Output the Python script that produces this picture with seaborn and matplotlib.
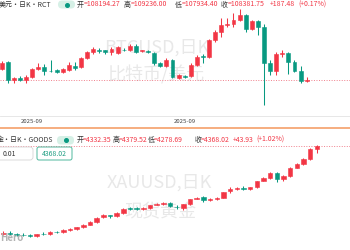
import numpy as np
import pandas as pd
import matplotlib
matplotlib.use("Agg")
import matplotlib.pyplot as plt
import seaborn as sns
from matplotlib.patches import FancyBboxPatch
from matplotlib.lines import Line2D
from matplotlib.transforms import IdentityTransform

# ---------------- data ----------------
btc_open = [111150, 112900, 108400, 108900, 108400, 109150, 111150, 111650, 110775, 110900,
            110400, 110900, 111900, 111650, 113900, 115400, 115900, 115900, 115400, 115150,
            116025, 115900, 117025, 115650, 115650, 115150, 112650, 111900, 113400, 108900,
            109400, 109400, 112150, 114400, 114150, 118400, 120400, 122150, 122400, 123400,
            124650, 121150, 123150, 121650, 112650, 110650, 114900, 115150, 112900, 110650,
            108194.27]
btc_high = [113150, 113150, 109150, 109400, 109650, 111400, 112650, 112400, 113400, 111275,
            111400, 112900, 112900, 114150, 115650, 116650, 116400, 116025, 116650, 116900,
            116400, 117525, 117400, 116025, 115900, 115400, 113025, 113900, 113650, 109900,
            109775, 112650, 114650, 114900, 118650, 120900, 123900, 123900, 125150, 126150,
            124900, 123400, 123400, 122400, 113400, 115400, 115900, 115400, 113400, 111900,
            109236.00]
btc_low = [110900, 107650, 107650, 108150, 107650, 108900, 110900, 109650, 110400, 110150,
           110275, 110650, 110900, 111400, 113650, 114900, 115150, 115025, 114650, 114900,
           115650, 115650, 115150, 115400, 115275, 112150, 111775, 111775, 108900, 108650,
           109025, 109150, 111900, 112650, 113900, 117900, 119150, 121650, 121650, 123275,
           120400, 120900, 119650, 102150, 109650, 109650, 114150, 109900, 110400, 107650,
           107934.40]
btc_close = [112650, 108400, 108900, 108400, 109150, 111150, 111650, 110650, 110650, 110400,
             111150, 112150, 111400, 113900, 115400, 116150, 115650, 115400, 116275, 116650,
             115900, 117025, 115400, 115900, 115400, 112650, 112025, 113400, 109150, 109650,
             109150, 112150, 114150, 114150, 118400, 120400, 122150, 122525, 123400, 124650,
             121150, 123150, 121650, 112650, 110650, 114900, 115150, 112900, 110650, 108150,
             108381.75]
btc_change, btc_pct = 187.48, 0.17
btc_tick_idx = [5, 30]
btc_tick_labels = ["2025-09", "2025-09"]

gold_open = [3318, 3330, 3312, 3306, 3306, 3288, 3318, 3312, 3342, 3336,
             3366, 3372, 3396, 3426, 3456, 3516, 3540, 3528, 3564, 3624,
             3624, 3618, 3624, 3666, 3678, 3684, 3642, 3624, 3672, 3738,
             3756, 3726, 3738, 3750, 3828, 3858, 3870, 3852, 3876, 3954,
             3984, 4044, 3978, 4008, 4110, 4152, 4212, 4332.35]
gold_high = [3348, 3348, 3330, 3324, 3312, 3318, 3336, 3348, 3354, 3372,
             3384, 3402, 3432, 3468, 3516, 3558, 3546, 3576, 3624, 3636,
             3636, 3642, 3666, 3690, 3696, 3696, 3660, 3678, 3738, 3762,
             3768, 3744, 3756, 3822, 3876, 3882, 3888, 3882, 3954, 3996,
             4056, 4056, 4020, 4116, 4164, 4224, 4344, 4379.52]
gold_low = [3300, 3300, 3288, 3288, 3282, 3276, 3300, 3300, 3324, 3324,
            3354, 3366, 3384, 3420, 3444, 3504, 3504, 3522, 3552, 3600,
            3606, 3606, 3618, 3660, 3666, 3636, 3618, 3606, 3666, 3732,
            3702, 3714, 3726, 3744, 3804, 3846, 3840, 3846, 3870, 3948,
            3978, 3942, 3954, 4002, 4104, 4140, 4206, 4278.69]
gold_close = [3324, 3318, 3306, 3300, 3294, 3312, 3312, 3336, 3336, 3366,
              3372, 3396, 3426, 3456, 3510, 3540, 3528, 3564, 3618, 3618,
              3618, 3624, 3660, 3678, 3684, 3648, 3636, 3672, 3732, 3750,
              3720, 3732, 3744, 3816, 3852, 3864, 3858, 3876, 3948, 3984,
              4044, 3972, 4008, 4110, 4152, 4212, 4332, 4368.02]
gold_change, gold_pct = 43.93, 1.02
tick_size_text = "0.01"

# ---------------- style ----------------
RED = "#F23645"
GREEN = "#089981"
DARK = "#333333"
WM = "#e8e8e8"

sns.set_theme(style="white")
plt.rcParams["font.family"] = ["Noto Sans CJK SC", "DejaVu Sans"]

W, H = 350, 250
fig = plt.figure(figsize=(3.5, 2.5), dpi=100)
fig.patch.set_facecolor("white")


def fx(x):
    return x / W


def fy(y):
    return 1 - y / H


def seg(x, y, s, color, size=5, **kw):
    fig.text(fx(x), fy(y), s, color=color, fontsize=size, ha="left", va="center", **kw)


def rbox(x, y, w, h, fc, ec, lw=0.0, r=3):
    p = FancyBboxPatch((x, H - y - h), w, h, boxstyle=f"round,pad=0,rounding_size={r}",
                       transform=IdentityTransform(), fc=fc, ec=ec, lw=lw)
    fig.add_artist(p)


def candles(ax, o, h, l, c, width):
    df = pd.DataFrame(dict(o=o, h=h, l=l, c=c))
    df["x"] = np.arange(len(df))
    col = np.where(df.c >= df.o, RED, GREEN)
    ax.vlines(df.x, df.l, df.h, colors=col, linewidth=0.75, zorder=2)
    ax.bar(df.x, (df.c - df.o).abs(), bottom=np.minimum(df.o, df.c), width=width,
           color=col, edgecolor=col, linewidth=0.4, zorder=3)


# ---------------- top panel (BTC) ----------------
ax1 = fig.add_axes([0, fy(116), 1, 116 / H])
ax1.patch.set_alpha(0)
candles(ax1, btc_open, btc_high, btc_low, btc_close, 0.65)
ax1.axhline(btc_close[-1], color="#f0808c", lw=0.7, ls=(0, (1, 1.6)), zorder=1)
ax1.set_xlim(-0.279, 57.1)
ax1.set_ylim(99400, 128400)
ax1.set_yticks([])
ax1.set_xticks(btc_tick_idx)
ax1.set_xticklabels(btc_tick_labels, fontsize=4.3, color="#444444")
ax1.tick_params(axis="x", length=0, pad=2.5)
sns.despine(ax=ax1, left=True)
ax1.spines["bottom"].set_color("#e3e3e3")
ax1.spines["bottom"].set_linewidth(0.6)

# ---------------- bottom panel (Gold) ----------------
ax2 = fig.add_axes([0, 0, 1, 120 / H])
ax2.patch.set_alpha(0)
candles(ax2, gold_open, gold_high, gold_low, gold_close, 0.67)
ax2.axhline(gold_close[-1], color="#f0808c", lw=0.7, ls=(0, (1, 1.6)), zorder=1)
ax2.set_xlim(-0.495, 51.98)
ax2.set_ylim(3120, 4560)
ax2.set_axis_off()

# ---------------- watermarks ----------------
for x, y, s in [(157, 48, "BTCUSD,日K"), (156, 75, "比特币/美元"),
                (159, 183, "XAUUSD,日K"), (160, 212, "现货黄金")]:
    fig.text(fx(x), fy(y), s, color=WM, fontsize=13, ha="center", va="center", zorder=-1)

# separator
fig.add_artist(Line2D([0, 1], [fy(128), fy(128)], color="#F5A06A", lw=1.2,
                      transform=fig.transFigure))

# ---------------- top header ----------------
yt = 4.5
seg(-1.5, yt, "美元・日K・RCT", DARK)
rbox(58, 0.5, 17, 8, "#d6f0e6", "none", r=4)
fig.add_artist(Line2D([fx(66.5)], [fy(yt)], marker="o", ms=2.6, color=GREEN, lw=0,
                      transform=fig.transFigure))
seg(77, yt, "开", DARK)
seg(83.5, yt, f"={btc_open[-1]:.2f}", RED)
seg(124, yt, "高", DARK)
seg(130.5, yt, f"={btc_high[-1]:.2f}", RED)
seg(175, yt, "低", DARK)
seg(181.5, yt, f"={btc_low[-1]:.2f}", RED)
seg(221, yt, "收", DARK)
seg(227.5, yt, f"={btc_close[-1]:.2f}", RED)
seg(270, yt, f"+{btc_change:.2f}", RED)
seg(298, yt, f"(+{btc_pct:.2f}%)", RED)

# ---------------- bottom header ----------------
yb = 140
seg(-3, yb, "金・日K・GOODS", DARK)
rbox(57, 136, 17, 8.5, "#d6f0e6", "none", r=4)
fig.add_artist(Line2D([fx(65.5)], [fy(yb)], marker="o", ms=2.6, color=GREEN, lw=0,
                      transform=fig.transFigure))
seg(77, yb, "开", DARK)
seg(83, yb, f"={gold_open[-1]:.2f}", RED)
seg(113, yb, "高", DARK)
seg(119, yb, f"={gold_high[-1]:.2f}", RED)
seg(148, yb, "低", DARK)
seg(154, yb, f"={gold_low[-1]:.2f}", RED)
seg(195, yb, "收", DARK)
seg(201, yb, f"={gold_close[-1]:.2f}", RED)
seg(233, yb, f"+{gold_change:.2f}", RED)
seg(256, yb, f"(+{gold_pct:.2f}%)", RED)

# input boxes
rbox(-3, 147, 36, 13, "white", "#d5d5d5", lw=0.6, r=3)
seg(3, 153.5, tick_size_text, DARK)
rbox(37, 147, 35, 13, "white", "#4fb89d", lw=0.7, r=2)
fig.text(fx(54.5), fy(153.5), f"{gold_close[-1]:.2f}", color="#1f9e82", fontsize=5,
         ha="center", va="center")

# logo
fig.text(fx(0), fy(238), "Hero", color="#b3b3b3", fontsize=7, fontweight="bold",
         ha="left", va="center")

fig.savefig("out.png", dpi=100, facecolor="white")
